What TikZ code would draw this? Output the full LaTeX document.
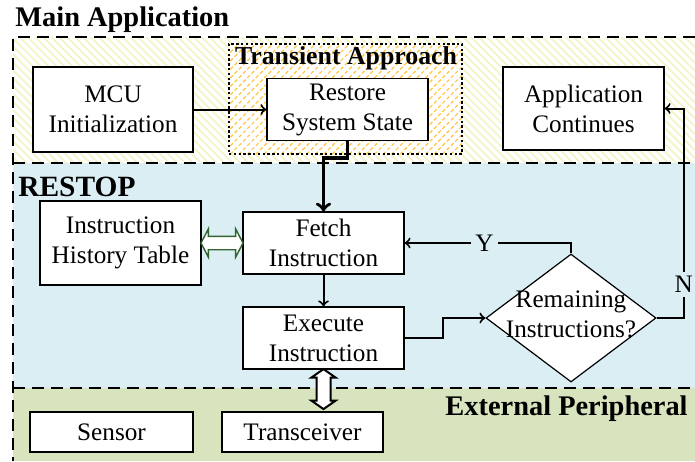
\documentclass[tikz,border=0pt]{standalone}
\usepackage{fontspec}
\setmainfont{Liberation Serif}
\usetikzlibrary{shapes.geometric,shapes.arrows,patterns.meta,calc}
\definecolor{restopblue}{RGB}{218,238,243}
\definecolor{periphgreen}{RGB}{215,228,189}
\definecolor{paleyellow}{RGB}{243,243,195}
\definecolor{hatchorange}{RGB}{255,196,60}
\definecolor{arrowgreen}{RGB}{50,100,50}

\begin{document}
\begin{tikzpicture}[x=0.5pt,y=-0.5pt,
    box/.style={draw, fill=white, align=center, line width=0.6pt, inner sep=0pt,
      font=\fontsize{12.6}{15}\selectfont},
    region/.style={dash pattern=on 6pt off 3.5pt, line width=1.3pt},
    title/.style={font=\fontsize{14.2}{16}\selectfont\bfseries, inner sep=0pt},
    flow/.style={->, line width=1pt},
    lbl/.style={fill=restopblue, inner sep=2pt, font=\fontsize{12.6}{14}\selectfont}]
  \useasboundingbox (0,0) rectangle (695,461);
  % the three areas
  \fill[pattern={Lines[angle=-45,distance=2.8pt,line width=0.8pt]}, pattern color=paleyellow]
    (13,37) rectangle (695,163);
  \fill[restopblue] (13,163) rectangle (695,388);
  \fill[periphgreen] (13,388) rectangle (695,461);
  \draw[region] (695,37) -- (13,37) -- (13,461);
  \draw[region] (13,163) -- (695,163);
  \draw[region] (13,388) -- (695,388);
  \node[title, anchor=west] (mainapp) at (15,20) {Main Application};
  \node[title, anchor=west, font=\fontsize{14.7}{16}\selectfont\bfseries] (restop) at (18,187) {RESTOP};
  \node[title, anchor=east] (periph) at (688,409) {External Peripheral};
  % transient approach
  \node[draw, dash pattern=on 1.2pt off 1.2pt, line width=1pt, preaction={fill=white},
    pattern={Lines[angle=45,distance=3pt,line width=0.6pt]}, pattern color=hatchorange,
    minimum width=116.5pt, minimum height=55pt] (trans) at (345.5,99) {};
  \node[font=\fontsize{12.9}{14}\selectfont\bfseries, inner sep=0pt] (transtitle) at (346,58) {Transient Approach};
  % boxes
  \node[box, minimum width=80pt, minimum height=42.5pt] (mcu) at (113,109.5) {MCU\\Initialization};
  \node[box, minimum width=80.5pt, minimum height=31pt] (restore) at (347.5,109.5) {Restore\\System State};
  \node[box, minimum width=80.5pt, minimum height=41.5pt] (appl) at (583.5,108.5) {Application\\Continues};
  \node[box, minimum width=80.5pt, minimum height=42pt] (ihist) at (120.5,243) {Instruction\\History Table};
  \node[box, minimum width=80.5pt, minimum height=31pt] (fetch) at (323.5,243) {Fetch\\Instruction};
  \node[box, minimum width=80.5pt, minimum height=31pt] (exec) at (323.5,338) {Execute\\Instruction};
  \node[draw, diamond, fill=white, line width=0.6pt, minimum width=85pt, minimum height=64pt,
    inner sep=0pt] (remain) at (571,318) {};
  \node[align=center, font=\fontsize{12.6}{15}\selectfont] (remaintext) at (571,314) {Remaining\\Instructions?};
  \node[box, minimum width=81.5pt, minimum height=20pt] (sensor) at (111.5,432) {Sensor};
  \node[box, minimum width=80.5pt, minimum height=20pt] (trx) at (302.5,432) {Transceiver};
  % connectors
  \draw[flow] (mcu.east) -- (restore.west);
  \draw[->, line width=1.7pt] (restore.south) -- ++(0,17) -| (fetch.north);
  \draw[flow] (fetch.south) -- (exec.north);
  \draw[flow] (exec.east) -- ++(38,0) |- (remain.west);
  \draw[flow] (remain.north) |- node[lbl, pos=0.76] {Y} (fetch.east);
  \draw[flow] (remain.east) -- ++(27,0) |- node[lbl, pos=0.08] {N} (appl.east);
  \node[double arrow, draw=arrowgreen, fill=white, line width=0.7pt, inner sep=3pt,
    minimum height=21pt, double arrow head extend=3.8pt,
    double arrow tip angle=125] (histlink) at ($(ihist.east)!0.5!(fetch.west)$) {};
  \node[double arrow, draw, fill=white, line width=1pt, inner sep=3pt, rotate=90,
    minimum height=20pt, double arrow head extend=2.5pt,
    double arrow tip angle=110] (periphlink) at ($(exec.south)+(0,19.5)$) {};
\end{tikzpicture}
\end{document}
